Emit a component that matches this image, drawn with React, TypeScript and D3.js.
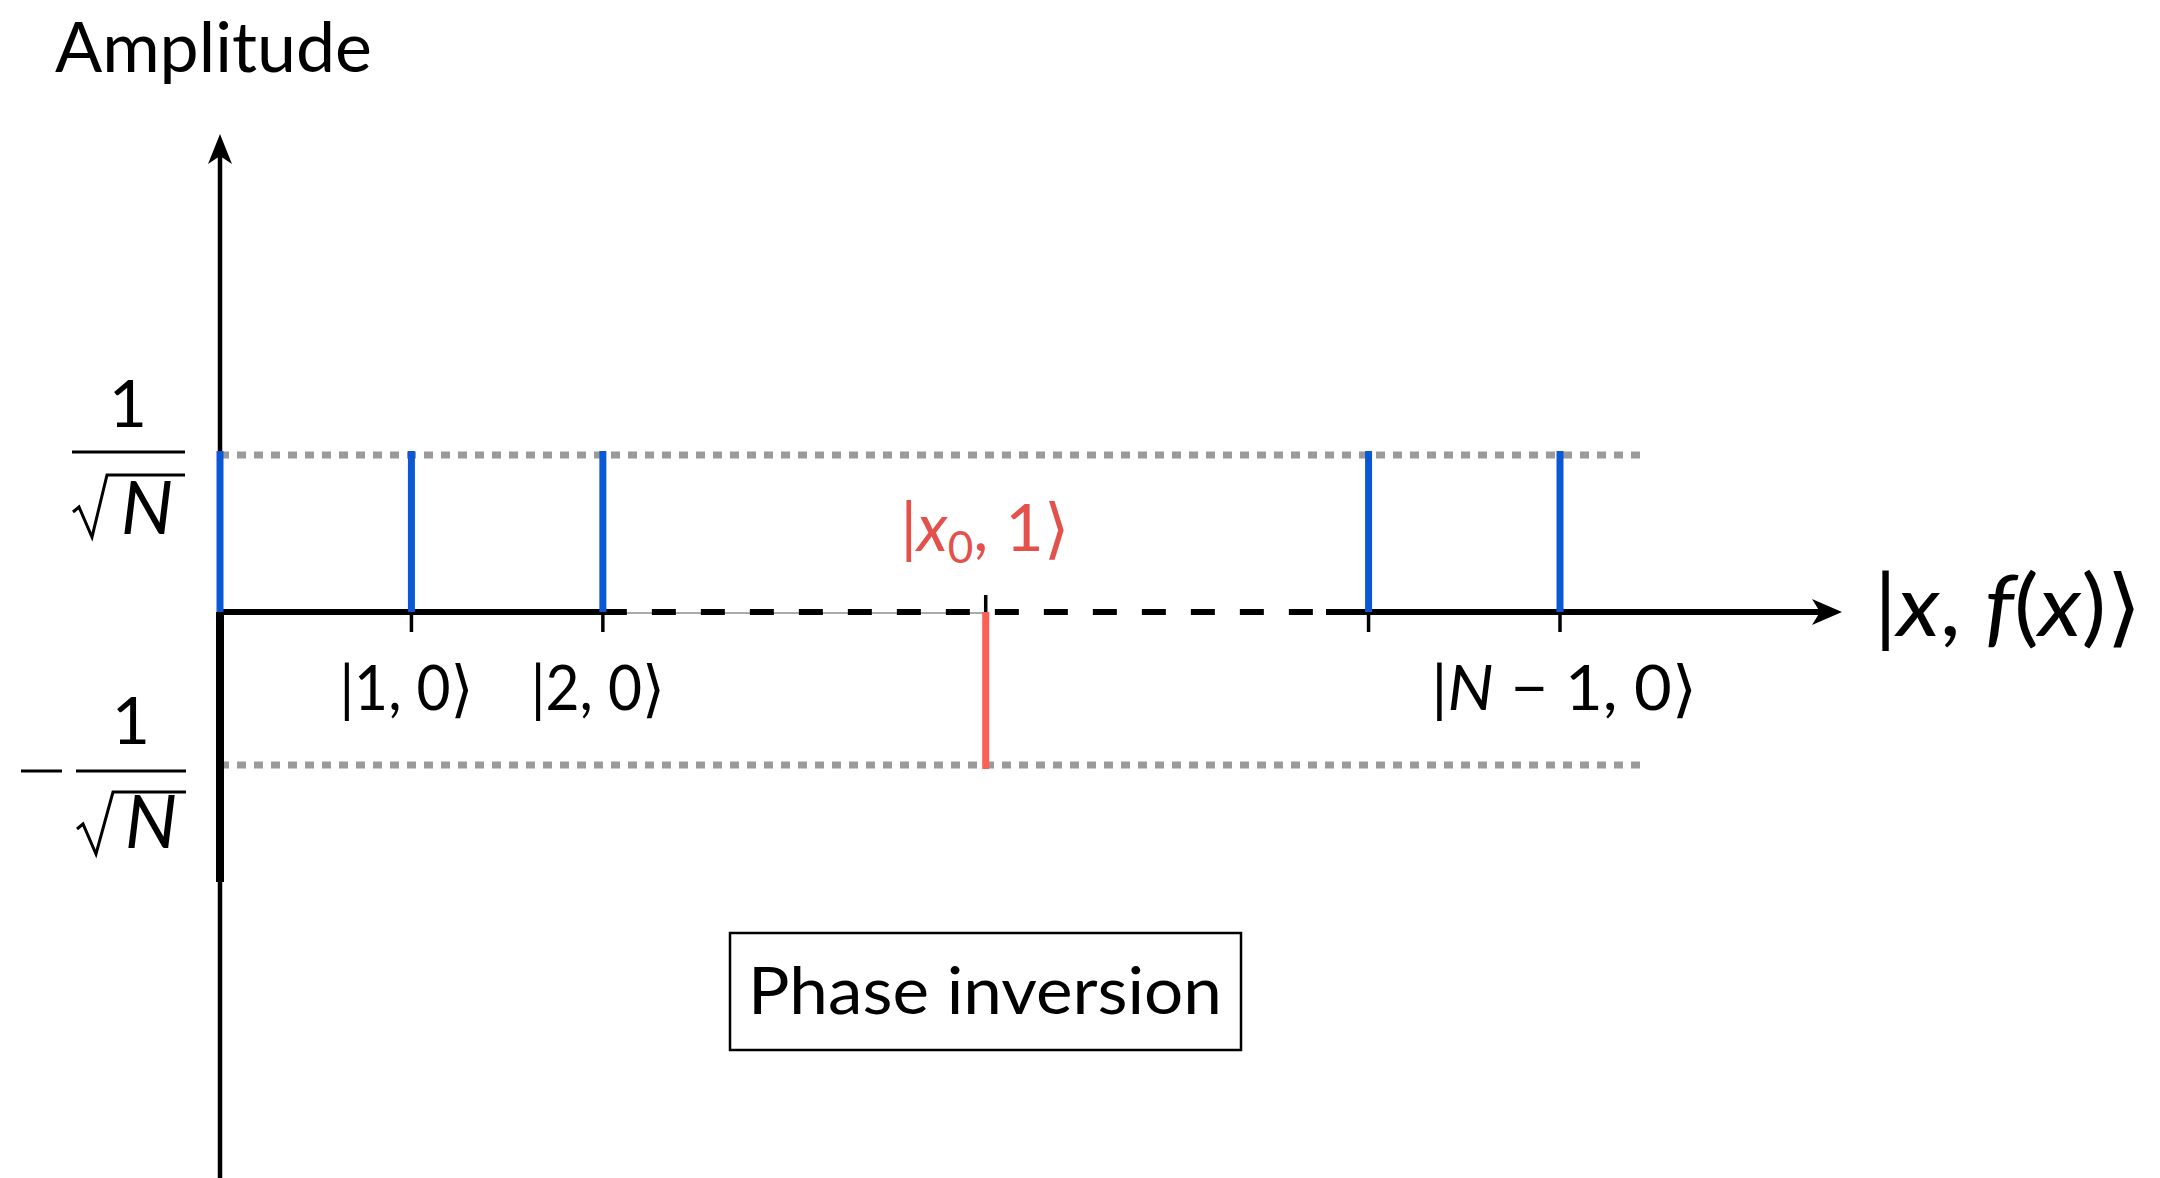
import React from "react";
import * as d3 from "d3";

// ---- data ----
const slots = [0, 1, 2, 4, 6, 7]; // horizontal slot of each basis state
const amplitudes = [1, 1, 1, -1, 1, 1]; // in units of 1/sqrt(N)
const barKinds = ["plain", "plain", "plain", "marked", "plain", "plain"];
const tickSlots = [1, 2, 4, 6, 7];
const tickLabels = [
  { slot: 1, text: "|1, 0⟩", width: 134 },
  { slot: 2, text: "|2, 0⟩", width: 134 },
  { slot: 6.5, text: "|N − 1, 0⟩", width: 266 },
];
const levels = [1, -1];

const W = 2160;
const H = 1178;

const x = d3.scaleLinear().domain([0, 7]).range([220, 1560]);
const y = d3.scaleLinear().domain([-1, 1]).range([769, 455]);

const BLUE = "#0a58d6";
const RED_BAR = "#fb6053";
const RED_TXT = "#e4504a";
const GRAY = "#9a9a9a";
const FONT = "Lato, 'DejaVu Sans', sans-serif";

export default function App() {
  const x0 = x(0);
  const y0 = y(0);
  const xArrowTip = 1842;
  const yArrowTip = 134;
  const dashStart = x(2);
  const dashSolidFrom = 1326;
  const dotEnd = 1640;

  return (
    <svg
      width={W}
      height={H}
      viewBox={`0 0 ${W} ${H}`}
      style={{ position: "absolute", left: 0, top: 0, background: "#fff" }}
    >
      {/* dotted reference levels */}
      {levels.map((v) => (
        <line
          key={v}
          x1={x0}
          x2={dotEnd}
          y1={y(v) + (v < 0 ? -4 : 0)}
          y2={y(v) + (v < 0 ? -4 : 0)}
          stroke={GRAY}
          strokeWidth={7}
          strokeDasharray="9 8"
        />
      ))}

      {/* y axis */}
      <line x1={x0} x2={x0} y1={H} y2={yArrowTip + 20} stroke="#000" strokeWidth={4.5} />
      <line x1={x0} x2={x0} y1={y0} y2={882} stroke="#000" strokeWidth={8} />
      <path
        d={`M ${x0} ${yArrowTip} L ${x0 - 12} ${yArrowTip + 30} L ${x0} ${yArrowTip + 22} L ${x0 + 12} ${yArrowTip + 30} Z`}
        fill="#000"
      />

      {/* x axis */}
      <line x1={x0} x2={dashStart} y1={y0} y2={y0} stroke="#000" strokeWidth={6} />
      <line x1={dashStart} x2={x(4)} y1={y0 + 1} y2={y0 + 1} stroke="#aaa" strokeWidth={2} />
      <line
        x1={dashStart}
        x2={dashSolidFrom}
        y1={y0}
        y2={y0}
        stroke="#000"
        strokeWidth={6}
        strokeDasharray="24 25"
      />
      <line x1={dashSolidFrom} x2={xArrowTip - 15} y1={y0} y2={y0} stroke="#000" strokeWidth={6} />
      <path
        d={`M ${xArrowTip} ${y0} L ${xArrowTip - 30} ${y0 - 13} L ${xArrowTip - 22} ${y0} L ${xArrowTip - 30} ${y0 + 13} Z`}
        fill="#000"
      />

      {/* ticks */}
      {tickSlots.map((s) => {
        const up = s === 4;
        return (
          <line
            key={s}
            x1={x(s)}
            x2={x(s)}
            y1={y0}
            y2={up ? y0 - 17 : y0 + 20}
            stroke="#000"
            strokeWidth={3.5}
          />
        );
      })}

      {/* amplitude bars */}
      {slots.map((s, i) => (
        <line
          key={i}
          x1={x(s)}
          x2={x(s)}
          y1={y(0)}
          y2={y(amplitudes[i]) + (amplitudes[i] > 0 ? -4 : 0)}
          stroke={barKinds[i] === "marked" ? RED_BAR : BLUE}
          strokeWidth={7}
        />
      ))}

      {/* tick labels */}
      {tickLabels.map((t) => (
        <text
          key={t.text}
          x={x(t.slot) - (t.slot === 6.5 ? -100 : 5)}
          y={710}
          fontFamily={FONT}
          fontSize={62}
          textAnchor="middle"
          fill="#000"
          textLength={t.width}
          lengthAdjust="spacingAndGlyphs"
        >
          {t.text.includes("N") ? (
            <>
              |<tspan fontStyle="italic">N</tspan> − 1, 0⟩
            </>
          ) : (
            t.text
          )}
        </text>
      ))}

      {/* marked state label */}
      <text
        x={985}
        y={551}
        fontFamily={FONT}
        fontSize={66}
        textAnchor="middle"
        fill={RED_TXT}
        textLength={169}
        lengthAdjust="spacingAndGlyphs"
      >
        |<tspan fontStyle="italic">x</tspan>
        <tspan fontSize={44} dy={12}>0</tspan>
        <tspan dy={-12}>, 1⟩</tspan>
      </text>

      {/* x axis title */}
      <text
        x={1874}
        y={636}
        fontFamily={FONT}
        fontSize={86}
        fill="#000"
        textLength={268}
        lengthAdjust="spacingAndGlyphs"
      >
        |<tspan fontStyle="italic">x</tspan>, <tspan fontStyle="italic">f</tspan>(<tspan fontStyle="italic">x</tspan>)⟩
      </text>

      {/* y axis title */}
      <text x={55} y={72} fontFamily={FONT} fontSize={70} fill="#000" textLength={317} lengthAdjust="spacingAndGlyphs">
        Amplitude
      </text>

      {/* +1/sqrt(N) */}
      <text x={128} y={427} fontFamily={FONT} fontSize={66} textAnchor="middle">1</text>
      <line x1={72} x2={185} y1={452} y2={452} stroke="#000" strokeWidth={3} />
      <path d="M 73 512 L 79 507 L 92 537 L 107 475 L 185 475" fill="none" stroke="#000" strokeWidth={3} />
      <text x={147} y={534} fontFamily={FONT} fontSize={74} fontStyle="italic" textAnchor="middle">N</text>

      {/* -1/sqrt(N) */}
      <line x1={21} x2={62} y1={771} y2={771} stroke="#000" strokeWidth={3} />
      <text x={131} y={744} fontFamily={FONT} fontSize={66} textAnchor="middle">1</text>
      <line x1={76} x2={186} y1={771} y2={771} stroke="#000" strokeWidth={3} />
      <path d="M 77 829 L 83 824 L 96 854 L 113 792 L 186 792" fill="none" stroke="#000" strokeWidth={3} />
      <text x={151} y={848} fontFamily={FONT} fontSize={74} fontStyle="italic" textAnchor="middle">N</text>

      {/* annotation box */}
      <rect x={730} y={933} width={511} height={117} fill="none" stroke="#000" strokeWidth={2.5} />
      <text x={985} y={1014} fontFamily={FONT} fontSize={66} textAnchor="middle" textLength={474} lengthAdjust="spacingAndGlyphs">
        Phase inversion
      </text>
    </svg>
  );
}
